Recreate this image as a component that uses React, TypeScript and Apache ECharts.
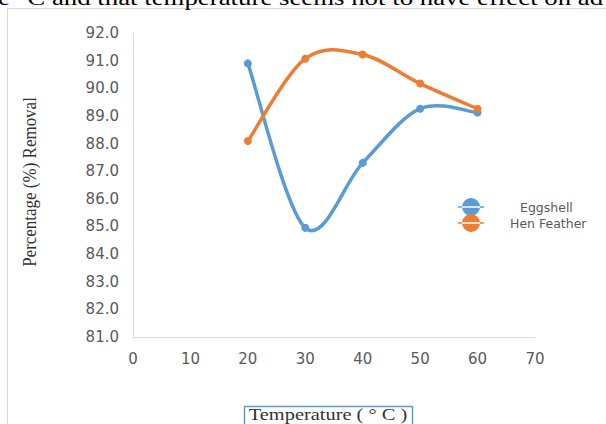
import React, { useEffect, useRef } from "react";
import * as echarts from "echarts";

const temperatures = [20, 30, 40, 50, 60];
const eggshell = [90.9, 84.95, 87.3, 89.26, 89.12];
const henFeather = [88.09, 91.07, 91.22, 90.17, 89.26];
const seriesNames = ["Eggshell", "Hen Feather"];
const seriesColors = ["#5b9bd5", "#ed7d31"];
const xTitle = "Temperature ( ° C )";
const yTitle = "Percentage (%) Removal";
const clippedText = "e °C and that temperature seems not to have effect on ad";

// Excel-style smoothed curve drawn segment by segment through the axis scales
function smoothSegment(values: number[], color: string) {
  return (params: any, api: any) => {
    const i = params.dataIndexInside;
    const n = values.length;
    if (i >= n - 1) return null;
    const p = (j: number) => {
      const k = Math.max(0, Math.min(n - 1, j));
      return api.coord([temperatures[k], values[k]]);
    };
    const p0 = p(i - 1);
    const p1 = p(i);
    const p2 = p(i + 1);
    const p3 = p(i + 2);
    const t = 1 / 6;
    return {
      type: "bezierCurve",
      shape: {
        x1: p1[0],
        y1: p1[1],
        cpx1: p1[0] + (p2[0] - p0[0]) * t,
        cpy1: p1[1] + (p2[1] - p0[1]) * t,
        cpx2: p2[0] - (p3[0] - p1[0]) * t,
        cpy2: p2[1] - (p3[1] - p1[1]) * t,
        x2: p2[0],
        y2: p2[1],
      },
      style: { stroke: color, lineWidth: 3.5, fill: "none", lineCap: "round" },
      silent: true,
    };
  };
}

const legendIcon =
  "path://M0,8.2h26v1.6h-26z M4,9a9,9 0 1,0 18,0a9,9 0 1,0 -18,0z";

export default function App() {
  const ref = useRef<HTMLDivElement>(null);
  useEffect(() => {
    if (!ref.current) return;
    const chart = echarts.init(ref.current, null, { renderer: "svg" });
    const labelFont = { fontFamily: "DejaVu Sans", fontSize: 15, color: "#595959" };
    const legendText = { fontFamily: "DejaVu Sans", fontSize: 12.5, color: "#595959" };
    chart.setOption({
      animation: false,
      backgroundColor: "#ffffff",
      grid: { left: 133, right: 71, top: 33, bottom: 87, containLabel: false },
      xAxis: {
        type: "value",
        min: 0,
        max: 70,
        interval: 10,
        axisLine: { show: true, onZero: false, lineStyle: { color: "#d9d9d9", width: 1 } },
        axisTick: { show: false },
        splitLine: { show: false },
        axisLabel: { ...labelFont, margin: 14 },
      },
      yAxis: {
        type: "value",
        min: 81,
        max: 92,
        interval: 1,
        axisLine: { show: true, lineStyle: { color: "#d9d9d9", width: 1 } },
        axisTick: { show: false },
        splitLine: { show: false },
        axisLabel: { ...labelFont, margin: 14, formatter: (v: number) => v.toFixed(1) },
      },
      legend: [
        {
          data: [seriesNames[0]],
          left: 458,
          top: 198,
          padding: 0,
          itemWidth: 26,
          itemHeight: 18,
          icon: legendIcon,
          textStyle: { ...legendText, padding: [3, 0, 0, 31] },
        },
        {
          data: [seriesNames[1]],
          left: 458,
          top: 214,
          padding: 0,
          itemWidth: 26,
          itemHeight: 18,
          icon: legendIcon,
          textStyle: { ...legendText, padding: [0, 0, 0, 21] },
        },
      ],
      series: [
        {
          name: seriesNames[0],
          type: "custom",
          data: temperatures.map((t, i) => [t, eggshell[i]]),
          encode: { x: 0, y: 1 },
          renderItem: smoothSegment(eggshell, seriesColors[0]),
          itemStyle: { color: seriesColors[0] },
          z: 2,
        },
        {
          name: seriesNames[0],
          type: "line",
          data: temperatures.map((t, i) => [t, eggshell[i]]),
          symbol: "circle",
          symbolSize: 8,
          lineStyle: { opacity: 0 },
          itemStyle: { color: seriesColors[0] },
          z: 3,
        },
        {
          name: seriesNames[1],
          type: "custom",
          data: temperatures.map((t, i) => [t, henFeather[i]]),
          encode: { x: 0, y: 1 },
          renderItem: smoothSegment(henFeather, seriesColors[1]),
          itemStyle: { color: seriesColors[1] },
          z: 4,
        },
        {
          name: seriesNames[1],
          type: "line",
          data: temperatures.map((t, i) => [t, henFeather[i]]),
          symbol: "circle",
          symbolSize: 8,
          lineStyle: { opacity: 0 },
          itemStyle: { color: seriesColors[1] },
          z: 5,
        },
      ],
      graphic: [
        {
          type: "rect",
          shape: { x: 7.5, y: 8.5, width: 700, height: 500 },
          style: { fill: "none", stroke: "#d9d9d9", lineWidth: 1 },
          silent: true,
        },
        {
          type: "text",
          x: -2,
          y: 8,
          scaleX: 1.22,
          style: {
            text: clippedText,
            font: "22px 'Liberation Serif'",
            fill: "#000000",
            textVerticalAlign: "bottom",
          },
        },
        {
          type: "text",
          x: 30,
          y: 182,
          rotation: Math.PI / 2,
          scaleY: 1.15,
          style: {
            text: yTitle,
            font: "17px 'Liberation Serif'",
            fill: "#333333",
            textAlign: "center",
            textVerticalAlign: "middle",
          },
        },
        {
          type: "rect",
          shape: { x: 244.5, y: 406.5, width: 168, height: 30 },
          style: { fill: "none", stroke: "#5b9bd5", lineWidth: 1.5 },
        },
        {
          type: "text",
          x: 328,
          y: 414.5,
          scaleX: 1.2,
          style: {
            text: xTitle,
            font: "17px 'Liberation Serif'",
            fill: "#333333",
            textAlign: "center",
            textVerticalAlign: "middle",
          },
        },
      ],
    });
    return () => chart.dispose();
  }, []);
  return (
    <div
      ref={ref}
      style={{ position: "fixed", left: 0, top: 0, width: 606, height: 424 }}
    />
  );
}
